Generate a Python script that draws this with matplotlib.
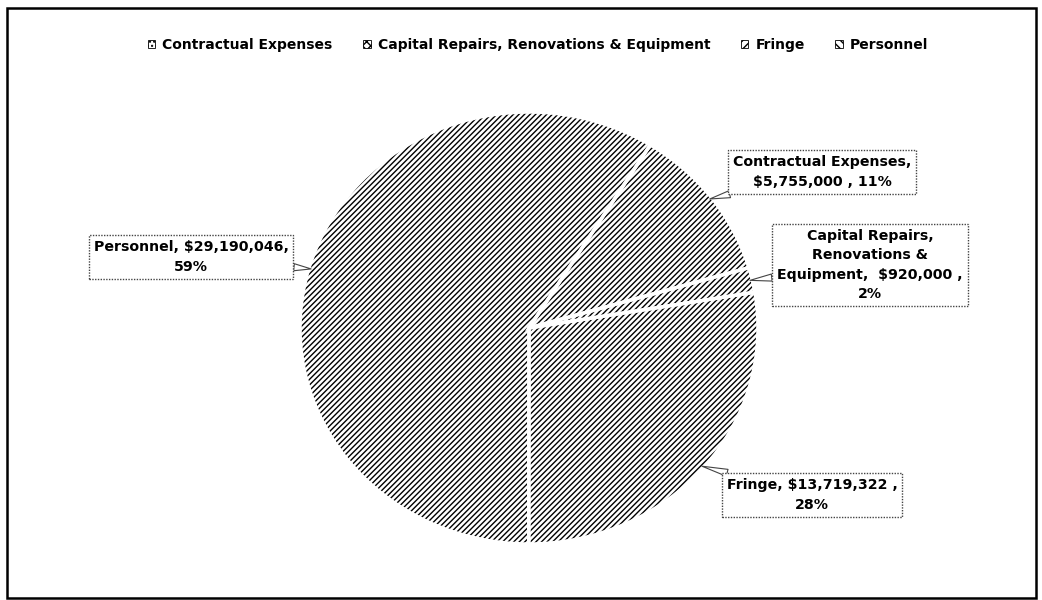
import numpy as np
import matplotlib.pyplot as plt
from matplotlib.patches import Patch, Rectangle

categories = ["Contractual Expenses", "Capital Repairs, Renovations & Equipment", "Fringe", "Personnel"]
amounts = [5755000, 920000, 13719322, 29190046]
percents = [11, 2, 28, 59]
label_texts = [
    "Contractual Expenses,\n$5,755,000 , 11%",
    "Capital Repairs,\nRenovations &\nEquipment,  $920,000 ,\n2%",
    "Fringe, $13,719,322 ,\n28%",
    "Personnel, $29,190,046,\n59%",
]
# label box centres in figure pixels (x from left, y from top)
label_pos = [(822, 172), (870, 265), (812, 495), (191, 257)]
legend_hatch = ["....", "xxxx", "////", "\\\\\\\\"]

W, H = 1042, 600
plt.rcParams['font.family'] = ['DejaVu Sans']
plt.rcParams['hatch.linewidth'] = 1.0
plt.rcParams['hatch.color'] = 'black'

fig = plt.figure(figsize=(W / 100, H / 100), dpi=100)

# pie spans pixels x 300..760, y 112..544
ax = fig.add_axes([300 / W, 1 - 544 / H, 458 / W, 432 / H])
start = 90 - 32
wedges, _ = ax.pie(amounts, startangle=start, counterclock=False, radius=1,
                   colors=['white'] * 4,
                   wedgeprops=dict(hatch='//////', edgecolor='black', linewidth=0))
ax.pie(amounts, startangle=start, counterclock=False, radius=1,
       wedgeprops=dict(fill=False, edgecolor='white', linewidth=2.5))
ax.set_aspect('auto')
ax.set_xlim(-1, 1)
ax.set_ylim(-1, 1)
ax.axis('off')

for w, txt, (px, py) in zip(wedges, label_texts, label_pos):
    mid = np.deg2rad((w.theta1 + w.theta2) / 2)
    tip = (np.cos(mid) * 0.99, np.sin(mid) * 0.99)
    ax.annotate(txt, xy=tip, xycoords='data',
                xytext=(px / W, 1 - py / H), textcoords='figure fraction',
                ha='center', va='center', fontsize=10.2, fontweight='bold',
                linespacing=1.5, annotation_clip=False,
                bbox=dict(boxstyle='square,pad=0.35', fc='white', ec='#444444',
                          ls=(0, (1, 1)), lw=1.0),
                arrowprops=dict(arrowstyle='wedge,tail_width=0.5', fc='white',
                                ec='#444444', lw=0.8, shrinkA=0, shrinkB=0))

handles = [Patch(facecolor='white', edgecolor='black', hatch=h, lw=0.6) for h in legend_hatch]
fig.legend(handles, categories, loc='center', bbox_to_anchor=(538 / W, 1 - 45 / H), ncol=4,
           frameon=False, handlelength=0.55, handleheight=0.55, handletextpad=0.5,
           columnspacing=2.2, prop=dict(weight='bold', size=10))

fig.add_artist(Rectangle((7 / W, 2 / H), 1029 / W, 590 / H, transform=fig.transFigure,
                         fill=False, edgecolor='black', lw=1.8))

fig.savefig('out.png', dpi=100)
